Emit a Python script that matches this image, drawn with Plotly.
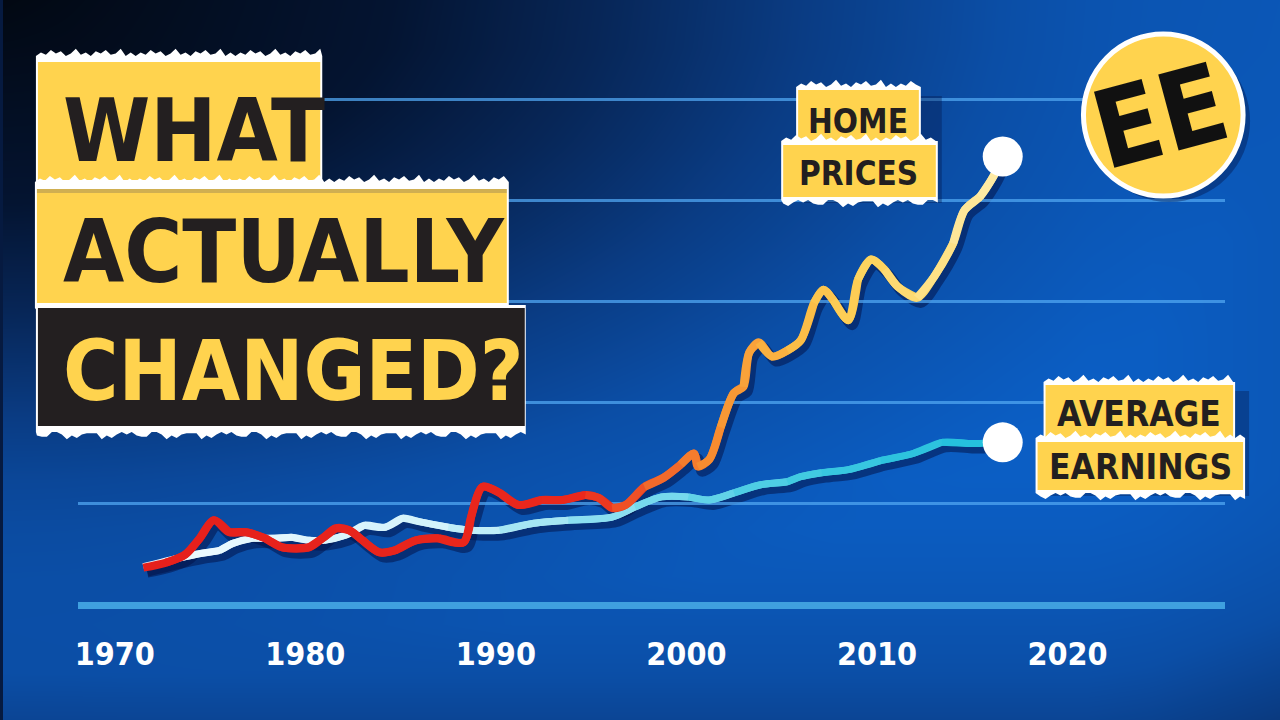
import plotly.graph_objects as go
import numpy as np

# ---------------- data ----------------
home_years = [1971.5, 1972.7, 1973.7, 1974.5, 1975.2, 1976.0, 1976.9, 1977.9, 1978.8, 1980.2,
              1980.9, 1981.6, 1982.3, 1983.0, 1983.9, 1984.7, 1985.8, 1987.0, 1988.3, 1988.7,
              1989.3, 1990.2, 1991.2, 1992.4, 1993.5, 1994.7, 1995.4, 1996.1, 1996.8, 1997.8,
              1998.8, 1999.7, 2000.4, 2000.6, 2001.2, 2001.8, 2002.5, 2003.0, 2003.3, 2003.8,
              2004.5, 2005.3, 2006.0, 2006.7, 2007.2, 2007.7, 2008.5, 2009.0, 2009.7, 2010.4,
              2011.1, 2012.1, 2013.0, 2014.0, 2014.6, 2015.4, 2016.1, 2016.6]
home_values = [37, 42, 50, 67, 84, 72, 72, 66, 57, 57,
               66, 76, 74, 64, 52, 54, 64, 66, 62, 87,
               117, 111, 99, 104, 104, 109, 106, 96, 99, 117,
               126, 139, 150, 137, 144, 176, 210, 216, 250, 260,
               246, 252, 262, 299, 312, 302, 282, 322, 342, 332,
               315, 304, 325, 358, 391, 404, 424, 444]

earn_years = [1971.5, 1973.0, 1974.5, 1975.5, 1976.2, 1977.2, 1978.4, 1979.3, 1980.2, 1981.0,
              1982.1, 1983.1, 1984.2, 1985.1, 1986.1, 1987.5, 1988.7, 1990.2, 1992.0, 1993.8,
              1996.1, 1997.3, 1998.7, 2000.1, 2001.2, 2002.5, 2003.9, 2005.3, 2006.0, 2007.1,
              2008.5, 2010.2, 2011.9, 2013.4, 2014.8, 2015.4, 2016.6]
earn_values = [38, 45, 51, 54, 61, 66, 66, 67, 64, 64,
               69, 79, 77, 86, 82, 77, 74, 74, 81, 84,
               87, 97, 107, 107, 104, 111, 119, 122, 127, 131,
               134, 143, 150, 161, 160, 160, 161]

tick_years = [1970, 1980, 1990, 2000, 2010, 2020]
tick_labels = ["1970", "1980", "1990", "2000", "2010", "2020"]
grid_values = [0, 100, 200, 300, 400, 500]

title_lines = ["WHAT", "ACTUALLY", "CHANGED?"]
home_label = ["HOME", "PRICES"]
earn_label = ["AVERAGE", "EARNINGS"]
logo_text = "EE"

# ---------------- styling helpers ----------------
W, H = 1280, 720
def X(px): return px / W
def Y(py): return 1 - py / H

FONT = "DejaVu Sans Condensed, Liberation Sans Narrow, Arial Narrow, DejaVu Sans, sans-serif"
YELLOW = "#FFD34E"
INK = "#231F20"

XR = [1968.063, 2028.272]
YR = [-26.73, 598.95]

def hex2rgb(h):
    h = h.lstrip('#')
    return tuple(int(h[i:i + 2], 16) for i in (0, 2, 4))

def grad(stops, t):
    if t <= stops[0][0]:
        return stops[0][1]
    for (t0, c0), (t1, c1) in zip(stops, stops[1:]):
        if t <= t1:
            f = (t - t0) / (t1 - t0)
            a, b = hex2rgb(c0), hex2rgb(c1)
            return "rgb(%d,%d,%d)" % tuple(round(a[i] + (b[i] - a[i]) * f) for i in range(3))
    return stops[-1][1]

home_stops = [(1971, "#e51f1c"), (1995, "#ea281c"), (1998.5, "#f05a28"), (2002, "#f78e30"),
              (2006, "#fbb944"), (2010, "#fdd35a"), (2016.6, "#feeba6")]
earn_stops = [(1971, "#f2fbff"), (1988, "#d2f3fb"), (1998, "#86def0"), (2006, "#45cbe2"),
              (2016.6, "#22c0dc")]

fig = go.Figure()

# background vignette (decorative)
bx = list(range(-64, 1345, 64))
by = list(range(-48, 769, 48))
bz = []
for yy in by:
    row = []
    for xx in bx:
        xc, yc = max(xx, 0), max(yy, 0)
        v = min(float(np.hypot(xc / 1000, yc / 520)), 1.3)
        v -= 0.4 * max(0.0, (min(yy, 720) - 470) / 250) ** 1.5
        v -= 0.12 * max(0.0, (min(xx, 1280) - 1120) / 160)
        row.append(v)
    bz.append(row)
fig.add_trace(go.Heatmap(x=bx, y=by, z=bz, zsmooth="best", showscale=False, hoverinfo="skip",
                         zmin=0, zmax=1.3,
                         colorscale=[[0, "#020812"], [0.3, "#041431"], [0.46, "#072657"],
                                     [0.62, "#0a3c84"], [0.77, "#0b4ea6"], [1, "#0b5ec4"]],
                         xaxis="x", yaxis="y"))

# drop shadows (shifted subplot)
for xs, ys in [(earn_years, earn_values), (home_years, home_values)]:
    fig.add_trace(go.Scatter(x=xs, y=ys, mode="lines", line=dict(color="rgba(3,20,75,0.55)", width=10,
                             shape="spline", smoothing=0.8), hoverinfo="skip",
                             xaxis="x2", yaxis="y2"))

def gradient_line(xs, ys, stops, width):
    n = len(xs)
    step = 2
    for s in range(0, n - 1, step):
        a = max(0, s - 1)
        b = min(n, s + step + 2)
        mid = (xs[s] + xs[min(n - 1, s + step)]) / 2
        fig.add_trace(go.Scatter(x=xs[a:b], y=ys[a:b], mode="lines",
                                 line=dict(color=grad(stops, mid), width=width,
                                           shape="spline", smoothing=0.8),
                                 hoverinfo="skip", xaxis="x3", yaxis="y3"))

gradient_line(earn_years, earn_values, earn_stops, 7)
gradient_line(home_years, home_values, home_stops, 8)

# end dots
fig.add_trace(go.Scatter(x=[home_years[-1], earn_years[-1]], y=[home_values[-1], earn_values[-1]],
                         mode="markers", marker=dict(color="white", size=40),
                         hoverinfo="skip", xaxis="x3", yaxis="y3"))

# ---------------- shapes ----------------
JAG = [0, 3, 1, 5, 2, 4, 0, 2, 6, 1, 3, 0, 4, 2, 5, 1, 2, 6, 0, 3]

def torn(x0, y0, x1, y1, top=True, bottom=True, amp=1.2):
    pts = []
    i = 0
    x = x0
    while x < x1:
        pts.append((x, y0 - (JAG[i % len(JAG)] * amp if top else 0)))
        x += 5; i += 1
    pts.append((x1, y0))
    x = x1
    while x > x0:
        pts.append((x, y1 + (JAG[(i * 7) % len(JAG)] * amp if bottom else 0)))
        x -= 5; i += 1
    pts.append((x0, y1))
    return "M " + " L ".join("%.5f,%.5f" % (X(a), Y(b)) for a, b in pts) + " Z"

shapes = []
def rect(x0, y0, x1, y1, fill):
    shapes.append(dict(type="rect", xref="paper", yref="paper", x0=X(x0), x1=X(x1),
                       y0=Y(y1), y1=Y(y0), fillcolor=fill, line=dict(width=0), layer="above"))
def path(p, fill):
    shapes.append(dict(type="path", xref="paper", yref="paper", path=p, fillcolor=fill,
                       line=dict(width=0), layer="above"))

# title boxes
path(torn(33, 56, 320, 185), "white")
rect(35, 62, 318, 180, YELLOW)
path(torn(32, 182, 507, 308), "white")
rect(34, 189, 505, 303, YELLOW)
rect(34, 189, 505, 193, "rgba(120,110,90,0.35)")
path(torn(33, 305, 524, 432, top=False), "white")
rect(35, 308, 523, 426, INK)

# HOME PRICES label
rect(803, 96, 941, 203, "rgba(2,20,70,0.35)")
path(torn(795, 87, 920, 146), "white")
rect(797, 90, 918, 143, YELLOW)
path(torn(780, 141, 937, 200), "white")
rect(782, 145, 935, 197, YELLOW)

# AVERAGE EARNINGS label
rect(1043, 391, 1249, 496, "rgba(2,20,70,0.35)")
path(torn(1043, 382, 1235, 442), "white")
rect(1045, 385, 1233, 440, YELLOW)
path(torn(1035, 438, 1245, 493), "white")
rect(1037, 442, 1243, 490, YELLOW)

# EE logo blob
shapes.append(dict(type="circle", xref="paper", yref="paper", x0=X(1088), x1=X(1250),
                   y0=Y(202), y1=Y(40), fillcolor="rgba(2,20,70,0.4)", line=dict(width=0), layer="above"))
shapes.append(dict(type="circle", xref="paper", yref="paper", x0=X(1083), x1=X(1243),
                   y0=Y(196), y1=Y(34), fillcolor=YELLOW, line=dict(color="white", width=5), layer="above"))

# ---------------- annotations ----------------
ann = []
def text(t, x, y, size, color, anchor="left", angle=0):
    ann.append(dict(text="<b>%s</b>" % t, x=X(x), y=Y(y), xref="paper", yref="paper",
                    xanchor=anchor, yanchor="middle", showarrow=False, textangle=angle,
                    font=dict(family=FONT, size=size, color=color)))

text(title_lines[0], 58, 130, 88, INK)
text(title_lines[1], 58, 251, 88, INK)
text(title_lines[2], 58, 371, 84, YELLOW)
text(home_label[0], 857, 121, 33, INK, "center")
text(home_label[1], 858, 173, 33, INK, "center")
text(earn_label[0], 1139, 414, 35, INK, "center")
text(earn_label[1], 1140, 467, 35, INK, "center")
text(logo_text, 1160, 117, 108, "#111111", "center", -15)

fig.update_layout(
    width=W, height=H, margin=dict(l=0, r=0, t=0, b=0),
    paper_bgcolor="#061a40", plot_bgcolor="rgba(0,0,0,0)",
    showlegend=False, hovermode=False,
    shapes=shapes, annotations=ann,
    xaxis=dict(domain=[0, 1], range=[0, 1280], visible=False, fixedrange=True),
    yaxis=dict(domain=[0, 1], range=[720, 0], visible=False, fixedrange=True),
    xaxis2=dict(domain=[79 / W, 1229 / W], range=XR, visible=False, anchor="y2"),
    yaxis2=dict(domain=[83 / H, 715 / H], range=YR, visible=False, anchor="x2"),
    xaxis3=dict(domain=[75 / W, 1225 / W], range=XR, anchor="y3",
                tickvals=tick_years, ticktext=["<b>%s</b>" % t for t in tick_labels],
                tickfont=dict(family=FONT, size=32, color="white"),
                showgrid=False, zeroline=False, showline=False, ticks=""),
    yaxis3=dict(domain=[88 / H, 1], range=YR, anchor="x3", tickvals=grid_values,
                showticklabels=False, showgrid=True, gridcolor="rgba(80,165,240,0.75)", gridwidth=3,
                zeroline=True, zerolinecolor="#3fa0df", zerolinewidth=7, showline=False, ticks=""),
)

fig.write_html("out.html", config={"displayModeBar": False, "staticPlot": True},
               post_script="document.body.style.margin='0';document.body.style.overflow='hidden';")
